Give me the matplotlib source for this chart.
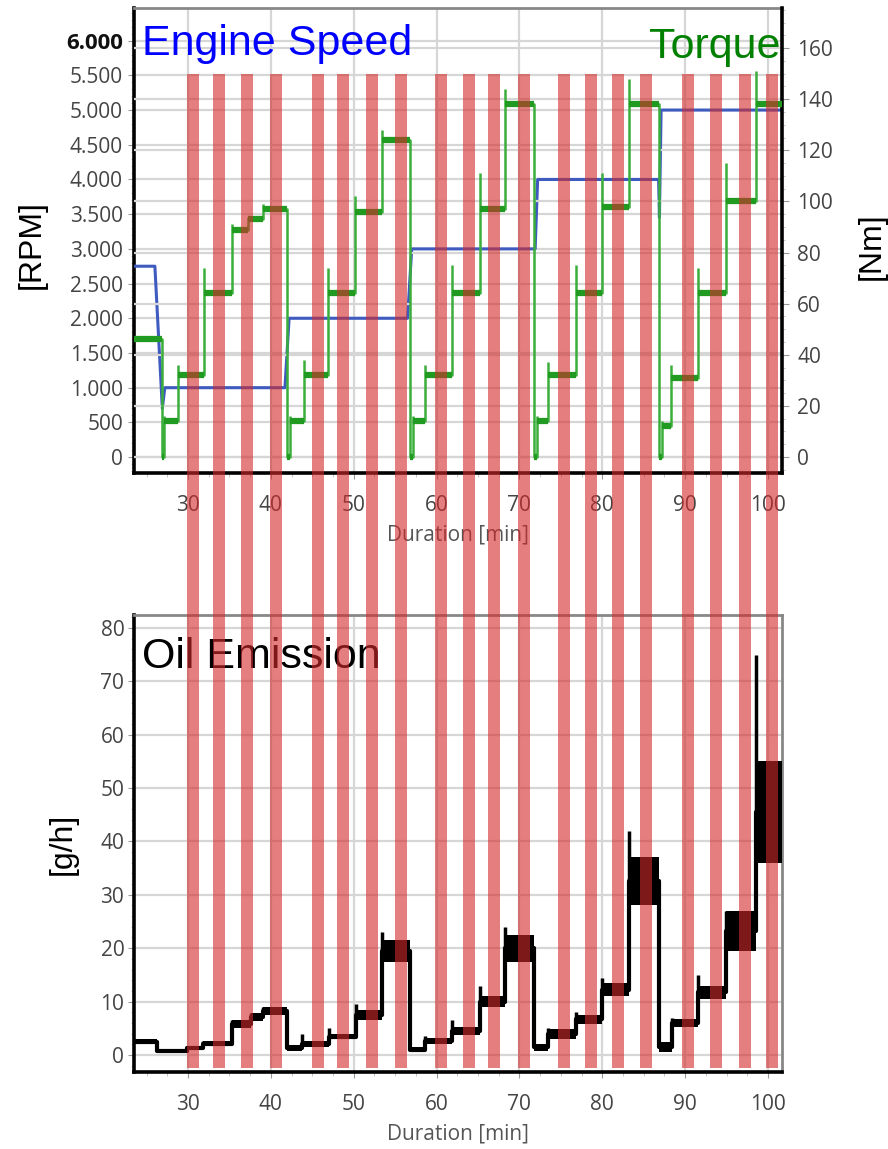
import matplotlib
matplotlib.use('Agg')
import matplotlib.pyplot as plt
import matplotlib.transforms as mtransforms
from matplotlib.patches import Rectangle
from matplotlib.ticker import MultipleLocator, FixedLocator

plt.rcParams['font.family'] = ['Open Sans', 'DejaVu Sans']

# time range of the test run [min]
T_START = 23.5
T_END = 101.7

# engine speed [RPM] (corner points of the trace)
speed_t = [23.5, 26.0, 26.9, 27.2, 41.7, 42.2, 56.5, 57.0, 71.9, 72.2, 86.8, 86.9, 87.1, 101.7]
speed_rpm = [2750, 2750, 700, 1000, 1000, 2000, 2000, 3000, 3000, 4000, 4000, 3450, 5000, 5000]

# torque [Nm]: step start, plateau level, short overshoot at step start
torque_start = [23.5, 26.9, 27.1, 28.8, 31.9, 35.3, 37.2, 39.0, 42.0, 42.3, 44.0, 46.9, 50.2, 53.4,
                56.8, 57.1, 58.6, 61.9, 65.2, 68.3, 71.8, 72.1, 73.4, 76.8, 80.0, 83.2,
                86.8, 87.2, 88.3, 91.6, 94.9, 98.5]
torque_level = [46, 0, 14, 32, 64, 89, 93, 97, 0, 14, 32, 64, 96, 124,
                0, 14, 32, 64, 97, 138, 0, 14, 32, 64, 98, 138,
                0, 12, 31, 64, 100, 138]
torque_peak = [46, 0, 16, 36, 74, 91, 94, 99, 0, 16, 38, 74, 102, 128,
               0, 16, 36, 75, 111, 144, 0, 16, 37, 75, 111, 148,
               0, 14, 36, 74, 115, 151]

# oil emission [g/h]: step start, lower / upper edge of the noisy band, overshoot
oil_start = [23.5, 26.3, 29.9, 31.8, 35.3, 37.6, 39.0, 42.0, 43.8, 47.0, 50.3, 53.4, 56.8, 58.6,
             61.9, 65.2, 68.3, 71.8, 73.4, 76.8, 80.0, 83.2, 86.8, 88.4, 91.6, 94.9, 98.5]
oil_low = [2.0, 0.4, 0.9, 1.6, 5.0, 6.3, 7.4, 0.8, 1.5, 2.9, 6.5, 17.5, 0.5, 2.0,
           3.8, 9.0, 17.5, 0.8, 3.0, 5.8, 11.0, 28.0, 0.6, 5.2, 10.5, 19.5, 36.0]
oil_high = [3.0, 1.2, 1.6, 2.6, 6.5, 7.8, 9.0, 1.8, 2.6, 4.0, 8.5, 21.5, 1.5, 3.2,
            5.2, 11.0, 22.5, 2.0, 4.8, 7.5, 13.5, 37.0, 2.5, 6.8, 13.0, 27.0, 55.0]
oil_peak = [3.0, 1.2, 1.6, 2.6, 6.5, 7.8, 9.0, 1.8, 4.0, 5.0, 9.5, 23.0, 1.5, 3.5,
            6.5, 13.0, 24.0, 2.0, 5.0, 8.0, 14.5, 42.0, 2.5, 7.0, 15.0, 27.0, 75.0]

# measurement windows (start of each highlighted interval) [min]
window_start = [29.9, 33.0, 36.4, 39.9, 45.0, 48.0, 51.5, 55.0, 59.8, 63.2,
                66.2, 69.8, 74.7, 77.9, 81.2, 84.6, 89.6, 93.0, 96.5, 99.8]
WINDOW_LEN = 1.45

rpm_ticks = [0, 500, 1000, 1500, 2000, 2500, 3000, 3500, 4000, 4500, 5000, 5500, 6000]
rpm_labels = ['0', '500', '1.000', '1.500', '2.000', '2.500', '3.000', '3.500',
              '4.000', '4.500', '5.000', '5.500', '6.000']
nm_ticks = [0, 20, 40, 60, 80, 100, 120, 140, 160]
oil_ticks = [0, 10, 20, 30, 40, 50, 60, 70, 80]
time_ticks = [30, 40, 50, 60, 70, 80, 90, 100]

GRID = '#d6d6d6'
TICKC = '#444444'
BLUE_LINE = '#3f5bbf'
GREEN_LINE = '#3aae3a'
GREEN_DARK = '#219a21'

fig = plt.figure(figsize=(8.88, 11.49), dpi=100)
ax1 = fig.add_axes([0.1509, 0.5883, 0.7297, 0.4047])
ax2 = ax1.twinx()
ax3 = fig.add_axes([0.1509, 0.0670, 0.7297, 0.3977])


def style_time_axis(ax):
    ax.set_xlim(23.48, 101.69)
    ax.xaxis.set_major_locator(FixedLocator(time_ticks))
    ax.xaxis.set_minor_locator(MultipleLocator(2.5))
    ax.tick_params(axis='x', which='major', labelsize=15, labelcolor=TICKC, color='#999999',
                   length=4, pad=12)
    ax.tick_params(axis='x', which='minor', color='#bbbbbb', length=3)
    ax.grid(axis='x', which='major', color=GRID, lw=1.6)
    ax.set_xlabel('Duration [min]', fontsize=15, color='#555555', labelpad=6)
    ax.set_axisbelow(True)


# --- top chart: engine speed and torque ---
style_time_axis(ax1)
ax1.set_ylim(-230, 6470)
ax1.set_yticks(rpm_ticks)
ax1.set_yticklabels(rpm_labels)
ax1.yaxis.set_minor_locator(MultipleLocator(100))
ax1.tick_params(axis='y', which='major', labelsize=15, labelcolor=TICKC, color='#999999',
                length=4, pad=4)
ax1.tick_params(axis='y', which='minor', color='#bbbbbb', length=2)
top_label = ax1.get_yticklabels()[-1]
top_label.set_fontweight('bold')
top_label.set_fontsize(16)
top_label.set_color('#111111')
ax1.grid(axis='y', color=GRID, lw=1.6)
ax1.plot(speed_t, speed_rpm, color=BLUE_LINE, lw=2.2, zorder=3)

ax2.set_ylim(-6.3, 175.7)
ax2.set_yticks(nm_ticks)
ax2.yaxis.set_minor_locator(MultipleLocator(5))
ax2.tick_params(axis='y', which='major', labelsize=15, labelcolor=TICKC, color='#999999',
                length=5, pad=6)
ax2.tick_params(axis='y', which='minor', color='#bbbbbb', length=2)
ax2.grid(axis='y', color=GRID, lw=1.6, zorder=0)
ax2.plot(torque_start + [T_END], torque_level + [torque_level[-1]],
         drawstyle='steps-post', color=GREEN_LINE, lw=1.8, zorder=3)
ax2.vlines(torque_start, torque_level, torque_peak, color=GREEN_LINE, lw=1.8, zorder=3)
# noisy plateaus drawn thicker
ax2.hlines(torque_level, torque_start, torque_start[1:] + [T_END],
           color=GREEN_DARK, lw=4.5, zorder=3)

for s in ['left', 'bottom']:
    ax1.spines[s].set_linewidth(2.6)
    ax1.spines[s].set_color('black')
ax1.spines['top'].set_color('#888888')
ax1.spines['top'].set_linewidth(2)
ax1.spines['right'].set_visible(False)
for s in ['left', 'bottom', 'top']:
    ax2.spines[s].set_visible(False)
ax2.spines['right'].set_linewidth(2.6)
ax2.spines['right'].set_color('black')

# --- bottom chart: oil emission ---
style_time_axis(ax3)
ax3.set_ylim(-3.2, 82.4)
ax3.set_yticks(oil_ticks)
ax3.yaxis.set_minor_locator(MultipleLocator(2))
ax3.tick_params(axis='y', which='major', labelsize=15, labelcolor=TICKC, color='#999999',
                length=4, pad=3)
ax3.tick_params(axis='y', which='minor', color='#bbbbbb', length=2)
ax3.grid(axis='y', color=GRID, lw=1.6)
oil_mid = [(lo + hi) / 2 for lo, hi in zip(oil_low, oil_high)]
ax3.fill_between(oil_start + [T_END], oil_low + [oil_low[-1]], oil_high + [oil_high[-1]],
                 step='post', color='black', lw=0, zorder=3)
ax3.plot(oil_start + [T_END], oil_mid + [oil_mid[-1]], drawstyle='steps-post',
         color='black', lw=3, zorder=3)
ax3.vlines(oil_start, oil_mid, oil_peak, color='black', lw=2.5, zorder=3)
for s in ['left', 'bottom']:
    ax3.spines[s].set_linewidth(2.6)
    ax3.spines[s].set_color('black')
for s in ['top', 'right']:
    ax3.spines[s].set_linewidth(2)
    ax3.spines[s].set_color('#888888')

# --- overlay labels ---
big = dict(family=['Liberation Sans', 'DejaVu Sans'], fontsize=31)
fig.text(0.160, 0.9521, 'Engine Speed', color='#0000ff', ha='left', va='baseline', **big)
fig.text(0.8795, 0.9495, 'Torque', color='#008000', ha='right', va='baseline', **big)
fig.text(0.160, 1 - 668 / 1149, 'Oil Emission', color='black', ha='left', va='baseline', **big)

unit = dict(family=['Liberation Sans', 'DejaVu Sans'], fontsize=23, rotation=90,
            ha='center', va='center', color='black')
fig.text(32 / 888, 1 - 245 / 1149, '[RPM]', **unit)
fig.text(872 / 888, 1 - 246 / 1149, '[Nm]', **unit)
fig.text(63 / 888, 1 - 844 / 1149, '[g/h]', **unit)

# --- highlighted measurement windows across both charts ---
band_tf = mtransforms.blended_transform_factory(ax1.transData, fig.transFigure)
y0 = 1 - 1068 / 1149
y1 = 1 - 74 / 1149
for t0 in window_start:
    fig.add_artist(Rectangle((t0, y0), WINDOW_LEN, y1 - y0, transform=band_tf,
                             facecolor='#d42a2a', alpha=0.6, lw=0, zorder=10))

fig.savefig('out.png', dpi=100)
